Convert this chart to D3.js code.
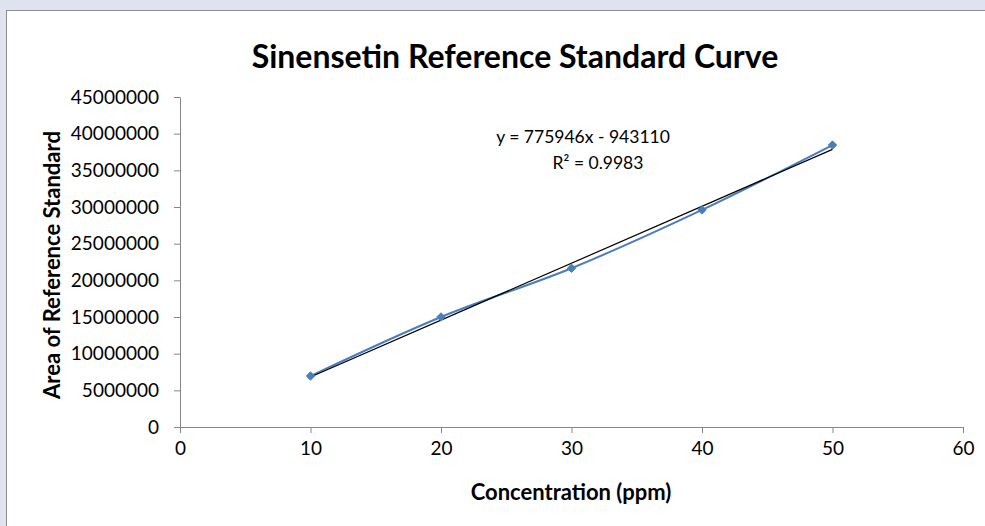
<!DOCTYPE html>
<html>
<head>
<meta charset="utf-8">
<script src="https://cdnjs.cloudflare.com/ajax/libs/d3/7.8.5/d3.min.js"></script>
<style>
  html, body { margin: 0; padding: 0; background: #dfe3ef; }
  svg { display: block; }
</style>
</head>
<body>
<div id="chart"></div>
<script>
// data
var concentration = [10, 20, 30, 40, 50];
var area = [6950000, 15000000, 21650000, 29600000, 38450000];
var xTicks = [0, 10, 20, 30, 40, 50, 60];
var yTicks = [0, 5000000, 10000000, 15000000, 20000000, 25000000, 30000000, 35000000, 40000000, 45000000];
var slope = 775946, intercept = -943110;
var eqLabels = ["y = 775946x - 943110", "R\u00b2 = 0.9983"];

var W = 985, H = 526;
var font = "Lato, 'Open Sans', sans-serif";
var blue = "#4a7ebb";

var svg = d3.select("#chart").append("svg")
  .attr("width", W)
  .attr("height", H);

// white chart panel
svg.append("rect")
  .attr("x", 6.5).attr("y", 10.5)
  .attr("width", W).attr("height", H)
  .attr("fill", "#fff")
  .attr("stroke", "#8c8c8c")
  .attr("stroke-width", 1);

var x = d3.scaleLinear().domain([0, 60]).range([180, 963]);
var y = d3.scaleLinear().domain([0, 45000000]).range([427, 97]);

var axisCol = "#868686";

var xAxis = svg.append("g")
  .attr("transform", "translate(0," + y(0) + ")")
  .call(d3.axisBottom(x).tickValues(xTicks).tickSize(6).tickSizeOuter(0).tickFormat(d3.format("d")));
var yAxis = svg.append("g")
  .attr("transform", "translate(" + x(0) + ",0)")
  .call(d3.axisLeft(y).tickValues(yTicks).tickSize(6).tickSizeOuter(0).tickFormat(d3.format("d")));

[xAxis, yAxis].forEach(function(g) {
  g.select(".domain").attr("stroke", axisCol);
  g.selectAll(".tick line").attr("stroke", axisCol);
  g.selectAll("text")
    .attr("fill", "#000")
    .attr("font-family", font)
    .attr("font-size", "19px");
});
xAxis.selectAll("text").attr("dy", "0").attr("y", 28);
yAxis.selectAll("text").attr("x", -21);

// series line, smoothed like the spreadsheet
var pts = concentration.map(function(c, i) { return [c, area[i]]; });
var line = d3.line()
  .x(function(d) { return x(d[0]); })
  .y(function(d) { return y(d[1]); })
  .curve(d3.curveCardinal.tension(0));

svg.append("path")
  .datum(pts)
  .attr("d", line)
  .attr("fill", "none")
  .attr("stroke", blue)
  .attr("stroke-width", 2);

// linear trendline
var x0 = d3.min(concentration), x1 = d3.max(concentration);
svg.append("line")
  .attr("x1", x(x0)).attr("y1", y(slope * x0 + intercept))
  .attr("x2", x(x1)).attr("y2", y(slope * x1 + intercept))
  .attr("stroke", "#000")
  .attr("stroke-width", 1.2);

// diamond markers
svg.selectAll(".pt")
  .data(pts)
  .enter().append("path")
  .attr("class", "pt")
  .attr("transform", function(d) { return "translate(" + x(d[0]) + "," + y(d[1]) + ")"; })
  .attr("d", d3.symbol().type(d3.symbolDiamond2).size(45))
  .attr("fill", blue)
  .attr("stroke", blue);

// equation label
svg.append("text")
  .attr("x", 583).attr("y", 143)
  .attr("text-anchor", "middle")
  .attr("font-family", font)
  .attr("font-size", "17.5px")
  .text(eqLabels[0]);
svg.append("text")
  .attr("x", 598).attr("y", 169)
  .attr("text-anchor", "middle")
  .attr("font-family", font)
  .attr("font-size", "17.5px")
  .text(eqLabels[1]);

// titles
svg.append("text")
  .attr("x", 515).attr("y", 68)
  .attr("text-anchor", "middle")
  .attr("font-family", font)
  .attr("font-weight", "700")
  .attr("font-size", "32px")
  .text("Sinensetin Reference Standard Curve");

svg.append("text")
  .attr("x", 571).attr("y", 500)
  .attr("text-anchor", "middle")
  .attr("font-family", font)
  .attr("font-weight", "700")
  .attr("font-size", "22px")
  .text("Concentration (ppm)");

svg.append("text")
  .attr("transform", "translate(60,265) rotate(-90)")
  .attr("text-anchor", "middle")
  .attr("font-family", font)
  .attr("font-weight", "700")
  .attr("font-size", "22px")
  .text("Area of Reference Standard");
</script>
</body>
</html>
